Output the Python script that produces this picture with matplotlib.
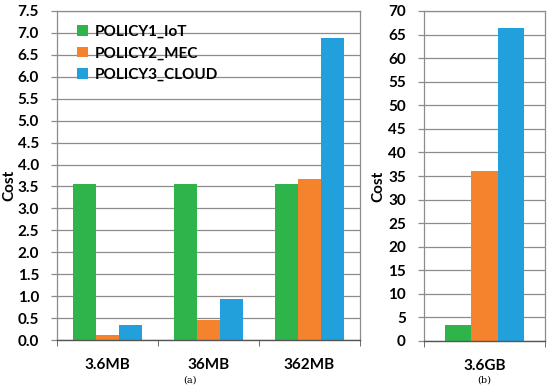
import numpy as np
import matplotlib
matplotlib.use('Agg')
import matplotlib.pyplot as plt

plt.rcParams['font.family'] = ['Lato', 'DejaVu Sans']
plt.rcParams['font.weight'] = 'bold'

policies = ['POLICY1_IoT', 'POLICY2_MEC', 'POLICY3_CLOUD']
colors = ['#2fb44b', '#f5822d', '#22a0dc']

sizes_a = ['3.6MB', '36MB', '362MB']
iot_a = [3.55, 3.55, 3.55]
mec_a = [0.11, 0.455, 3.67]
cloud_a = [0.34, 0.93, 6.88]

sizes_b = ['3.6GB']
iot_b = [3.5]
mec_b = [36.0]
cloud_b = [66.3]

fig = plt.figure(figsize=(5.5, 3.9), dpi=100)
ax1 = fig.add_axes([57/550, 1-340/390, 303/550, 329/390])
ax2 = fig.add_axes([424/550, 1-341/390, 121/550, 330/390])


def style(ax, label_x):
    ax.set_axisbelow(True)
    ax.yaxis.grid(True, color='#8c8c8c', lw=0.9)
    for s in ['top', 'right', 'left']:
        ax.spines[s].set_color('#8c8c8c')
        ax.spines[s].set_linewidth(0.9)
    ax.spines['bottom'].set_color('#555555')
    ax.spines['bottom'].set_linewidth(1.0)
    ax.tick_params(axis='y', length=4, width=0.9, color='#8c8c8c',
                   labelsize=11, pad=9)
    ax.tick_params(axis='x', which='major', length=0, labelsize=11, pad=13)
    ax.tick_params(axis='x', which='minor', length=4, color='#555555')
    ax.set_ylabel('Cost', fontsize=11, fontweight='bold')
    ax.yaxis.set_label_coords(label_x, 0.47)


w = 0.225
x = np.arange(len(sizes_a))
for i, (vals, lab) in enumerate(zip([iot_a, mec_a, cloud_a], policies)):
    ax1.bar(x + (i - 1) * w, vals, w, color=colors[i], label=lab)
ax1.set_xlim(-0.5, len(sizes_a) - 0.5)
ax1.set_ylim(0, 7.5)
ax1.set_yticks(np.arange(0, 7.51, 0.5))
ax1.set_yticklabels(['%.1f' % v for v in np.arange(0, 7.51, 0.5)])
ax1.set_xticks(x)
ax1.set_xticklabels(sizes_a)
ax1.set_xticks(np.arange(-0.5, len(sizes_a)), minor=True)
style(ax1, -0.135)
ax1.legend(loc='upper left', bbox_to_anchor=(0.02, 1.0), frameon=False,
           handlelength=0.7, handleheight=0.7, handletextpad=0.5,
           labelspacing=0.5, fontsize=11)

w2 = 0.22
xb = np.arange(len(sizes_b))
for i, vals in enumerate([iot_b, mec_b, cloud_b]):
    ax2.bar(xb + (i - 1) * w2, vals, w2, color=colors[i])
ax2.set_xlim(-0.5, 0.5)
ax2.set_ylim(0, 70)
ax2.set_yticks(np.arange(0, 71, 5))
ax2.set_xticks(xb)
ax2.set_xticklabels(sizes_b)
ax2.set_xticks([-0.5, 0.5], minor=True)
style(ax2, -0.32)

fig.text(190/550, 1-380/390, '(a)', family='DejaVu Serif', fontweight='normal',
         fontsize=7, ha='center', va='center')
fig.text(484/550, 1-380/390, '(b)', family='DejaVu Serif', fontweight='normal',
         fontsize=7, ha='center', va='center')

fig.savefig('out.png', dpi=100)
